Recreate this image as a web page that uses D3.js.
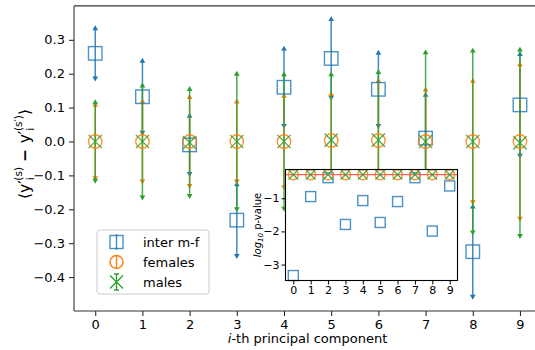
<!DOCTYPE html>
<html><head><meta charset="utf-8">
<script src="https://cdn.jsdelivr.net/npm/d3@7"></script>
<style>body{margin:0;background:#fff;overflow:hidden}svg{font-family:"DejaVu Sans",sans-serif;display:block}</style>
</head><body>
<svg id="c" width="535" height="350"></svg>
<script>
const components = [0,1,2,3,4,5,6,7,8,9];
const interMean = [0.26, 0.132, -0.01, -0.232, 0.16, 0.245, 0.154, 0.01, -0.325, 0.108];
const interErr  = [0.076, 0.108, 0.088, 0.108, 0.116, 0.118, 0.11, 0.13, 0.135, 0.152];
const femMean   = [0, 0, 0, 0, 0, 0.003, 0.003, 0, 0, 0];
const femErr    = [0.11, 0.12, 0.133, 0.12, 0.137, 0.139, 0.178, 0.155, 0.181, 0.23];
const maleMean  = [0, 0, -0.003, 0, 0, 0.004, 0.004, 0, 0, -0.004];
const maleErr   = [0.118, 0.167, 0.16, 0.202, 0.2, 0.196, 0.203, 0.265, 0.27, 0.277];
const yTicks = [-0.4,-0.3,-0.2,-0.1,0.0,0.1,0.2,0.3];
const pInter = [-3.33, -0.95, -0.38, -1.79, -1.07, -1.73, -1.10, -0.38, -1.99, -0.63];
const pFem   = [-0.29,-0.29,-0.29,-0.29,-0.29,-0.29,-0.29,-0.29,-0.29,-0.29];
const pMale  = [-0.29,-0.29,-0.29,-0.29,-0.29,-0.29,-0.29,-0.29,-0.29,-0.29];
const pThreshold = -0.29;
const insetYTicks = [-3,-2,-1];
const seriesNames = ["inter m-f","females","males"];

const BLUE="#1f77b4", ORANGE="#ff7f0e", GREEN="#2ca02c";
const svg = d3.select("#c");
const x = d3.scaleLinear().domain([-0.45,9.45]).range([74,541.2]);
const y = d3.scaleLinear().domain([-0.5,0.4]).range([311,5.9]);

// axes
const gx = svg.append("g").attr("transform","translate(0,311)")
  .call(d3.axisBottom(x).tickValues(components).tickFormat(d3.format("d")).tickSizeOuter(0).tickSize(5).tickPadding(4));
const gy = svg.append("g").attr("transform","translate(74,0)")
  .call(d3.axisLeft(y).tickValues(yTicks).tickFormat(d=>d3.format(".1f")(d).replace("-","\u2212")).tickSizeOuter(0).tickSize(5).tickPadding(4));
[gx,gy].forEach(g=>{g.selectAll("text").attr("font-size",13).attr("fill","#000").attr("font-family","DejaVu Sans");
  g.selectAll("line").attr("stroke","#000").attr("stroke-width",0.9);
  g.select(".domain").remove();});
const spine = svg.append("g").attr("stroke","#333").attr("stroke-width",1.1);
spine.append("line").attr("x1",74).attr("x2",541).attr("y1",5.9).attr("y2",5.9);
spine.append("line").attr("x1",74).attr("x2",74).attr("y1",5.9).attr("y2",311);
spine.append("line").attr("x1",74).attr("x2",541).attr("y1",311).attr("y2",311);

const tri = d3.symbol().type(d3.symbolTriangle).size(14);
function errorbars(mean, err, color){
  const g = svg.append("g");
  components.forEach((c,i)=>{
    const cx = x(c), y1 = y(mean[i]+err[i]), y2 = y(mean[i]-err[i]);
    g.append("line").attr("x1",cx).attr("x2",cx).attr("y1",y1).attr("y2",y2)
      .attr("stroke",color).attr("stroke-width",1.5).attr("opacity",0.85);
    g.append("path").attr("d",tri).attr("transform",`translate(${cx},${y1+1})`).attr("fill",color);
    g.append("path").attr("d",tri).attr("transform",`translate(${cx},${y2-1}) rotate(180)`).attr("fill",color);
  });
}
errorbars(interMean, interErr, BLUE);
errorbars(femMean, femErr, ORANGE);
errorbars(maleMean, maleErr, GREEN);

function squares(g, xs, ys, vals, s, color){
  g.selectAll(null).data(vals).enter().append("rect")
    .attr("x",(d,i)=>xs(components[i])-s/2).attr("y",d=>ys(d)-s/2).attr("width",s).attr("height",s)
    .attr("fill","none").attr("stroke",color).attr("stroke-width",1.4).attr("opacity",0.8);
}
function circles(g, xs, ys, vals, r, color){
  g.selectAll(null).data(vals).enter().append("circle")
    .attr("cx",(d,i)=>xs(components[i])).attr("cy",d=>ys(d)).attr("r",r)
    .attr("fill","none").attr("stroke",color).attr("stroke-width",1.4).attr("opacity",0.85);
}
function crosses(g, xs, ys, vals, h, color){
  g.selectAll(null).data(vals).enter().append("path")
    .attr("d",(d,i)=>{const cx=xs(components[i]), cy=ys(d);
      return `M${cx-h},${cy-h}L${cx+h},${cy+h}M${cx-h},${cy+h}L${cx+h},${cy-h}`;})
    .attr("fill","none").attr("stroke",color).attr("stroke-width",1.3).attr("opacity",0.85);
}
const gm = svg.append("g");
squares(gm, x, y, interMean, 13.5, BLUE);
circles(gm, x, y, femMean, 6.7, ORANGE);
crosses(gm, x, y, maleMean, 6.6, GREEN);

// y label
const ylg = svg.append("g");
const yl = ylg.append("text").attr("text-anchor","middle").attr("font-size",14).attr("fill","#000");
yl.append("tspan").text("\u27E8y\u2032");
yl.append("tspan").attr("font-size",9.5).attr("dy",4).text("i");
yl.append("tspan").attr("font-size",9.5).attr("dx",-3).attr("dy",-11).text("(s)");
yl.append("tspan").attr("dy",7).attr("font-weight","bold").text(" \u2212 ");
yl.append("tspan").text("y\u2032");
yl.append("tspan").attr("font-size",9.5).attr("dy",4).text("i");
yl.append("tspan").attr("font-size",9.5).attr("dx",-3).attr("dy",-11).text("(s\u2032)");
yl.append("tspan").attr("dy",7).text("\u27E9");
let L = 0; try { L = yl.node().getBBox().width; } catch(e) {}
const k = L > 0 ? Math.min(1.3, Math.max(0.7, 90 / L)) : 1;
ylg.attr("transform",`translate(29.5,154) rotate(-90) scale(${k})`);

// x label
const xl = svg.append("text").attr("x",307.5).attr("y",343).attr("text-anchor","middle").attr("font-size",13).attr("fill","#000");
xl.append("tspan").attr("font-style","italic").text("i");
xl.append("tspan").text("-th principal component");

// legend
const lg = svg.append("g").attr("transform","translate(97,230)");
lg.append("rect").attr("width",112).attr("height",64).attr("rx",3).attr("fill","#fff").attr("fill-opacity",0.85).attr("stroke","#ccc");
const ly = [12,32,52];
lg.append("rect").attr("x",13).attr("y",ly[0]-6.5).attr("width",13).attr("height",13).attr("fill","none").attr("stroke",BLUE).attr("stroke-width",1.4).attr("opacity",0.8);
lg.append("line").attr("x1",19.5).attr("x2",19.5).attr("y1",ly[0]-8).attr("y2",ly[0]+8).attr("stroke",BLUE).attr("stroke-width",1.4).attr("opacity",0.85);
lg.append("circle").attr("cx",19.5).attr("cy",ly[1]).attr("r",6.5).attr("fill","none").attr("stroke",ORANGE).attr("stroke-width",1.4);
lg.append("line").attr("x1",19.5).attr("x2",19.5).attr("y1",ly[1]-7).attr("y2",ly[1]+7).attr("stroke",ORANGE).attr("stroke-width",1.4);
lg.append("path").attr("d",`M${13},${ly[2]-6.5}L${26},${ly[2]+6.5}M${13},${ly[2]+6.5}L${26},${ly[2]-6.5}`).attr("stroke",GREEN).attr("stroke-width",1.3).attr("fill","none");
lg.append("path").attr("d",`M19.5,${ly[2]-8}V${ly[2]+8}M17,${ly[2]-8}H22M17,${ly[2]+8}H22`).attr("stroke",GREEN).attr("stroke-width",1.3).attr("fill","none");
seriesNames.forEach((n,i)=>lg.append("text").attr("x",46).attr("y",ly[i]+4.5).attr("font-size",13).attr("fill","#000").text(n));

// inset
const ix = d3.scaleLinear().domain([-0.45,9.45]).range([285.5,457.5]);
const iy = d3.scaleLinear().domain([-3.48,-0.133]).range([280.5,169.5]);
svg.append("rect").attr("x",285.5).attr("y",169.5).attr("width",172).attr("height",111).attr("fill","#fff");
const gi = svg.append("g");
gi.append("line").attr("x1",285.5).attr("x2",457.5).attr("y1",iy(pThreshold)).attr("y2",iy(pThreshold)).attr("stroke","#ff0000").attr("stroke-width",1.3).attr("opacity",0.6);
squares(gi, ix, iy, pInter, 10, BLUE);
circles(gi, ix, iy, pFem, 5, ORANGE);
crosses(gi, ix, iy, pMale, 4.8, GREEN);
svg.append("rect").attr("x",285.5).attr("y",169.5).attr("width",172).attr("height",111).attr("fill","none").attr("stroke","#000").attr("stroke-width",1.1);
const gix = svg.append("g").attr("transform","translate(0,280.5)")
  .call(d3.axisBottom(ix).tickValues(components).tickFormat(d3.format("d")).tickSizeOuter(0).tickSize(4).tickPadding(2));
const giy = svg.append("g").attr("transform","translate(285.5,0)")
  .call(d3.axisLeft(iy).tickValues(insetYTicks).tickFormat(d=>String(d).replace("-","\u2212")).tickSizeOuter(0).tickSize(4).tickPadding(2));
[gix,giy].forEach(g=>{g.selectAll("text").attr("font-size",11).attr("fill","#000").attr("font-family","DejaVu Sans");
  g.selectAll("line").attr("stroke","#000"); g.select(".domain").remove();});
const il = svg.append("text").attr("transform","translate(261,225) rotate(-90)").attr("text-anchor","middle").attr("font-size",10).attr("fill","#000");
il.append("tspan").attr("font-style","italic").text("log");
il.append("tspan").attr("font-size",7).attr("font-style","italic").attr("dy",2).text("10");
il.append("tspan").attr("dy",-2).text(" p-value");
</script>
</body></html>
